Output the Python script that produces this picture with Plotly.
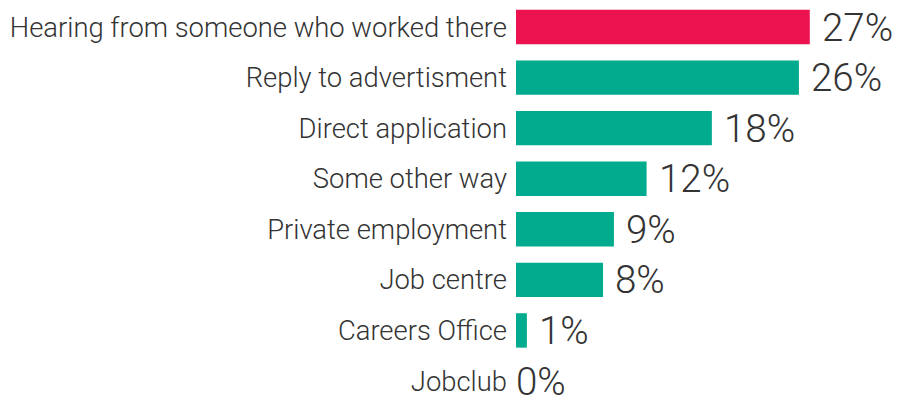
import plotly.graph_objects as go

# Ways people found their current job (share of respondents, %)
categories = [
    "Hearing from someone who worked there",
    "Reply to advertisment",
    "Direct application",
    "Some other way",
    "Private employment",
    "Job centre",
    "Careers Office",
    "Jobclub",
]
values = [27, 26, 18, 12, 9, 8, 1, 0]
value_labels = ["27%", "26%", "18%", "12%", "9%", "8%", "1%", "0%"]

HIGHLIGHT = "#EC1250"
BASE = "#00AB8E"
TEXT = "#333333"
FONT = "Roboto"

colors = [HIGHLIGHT if i == 0 else BASE for i in range(len(values))]
positions = list(range(len(categories)))

fig = go.Figure(
    go.Bar(
        x=values,
        y=positions,
        orientation="h",
        width=0.68,
        marker=dict(color=colors, line=dict(width=0)),
        hoverinfo="skip",
    )
)

# value labels just past the end of each bar
for pos, val, lab in zip(positions, values, value_labels):
    fig.add_annotation(
        x=val,
        y=pos,
        text=lab,
        showarrow=False,
        xanchor="left",
        yanchor="middle",
        xshift=10 if val > 0 else -2,
        font=dict(family=FONT, size=38.5, color=TEXT, weight=300),
    )

fig.update_layout(
    width=899,
    height=398,
    margin=dict(l=516, r=0, t=0, b=0),
    paper_bgcolor="white",
    plot_bgcolor="white",
    showlegend=False,
    xaxis=dict(range=[0, 35.2], visible=False, fixedrange=True),
    yaxis=dict(
        range=[7.336, -0.534],
        tickmode="array",
        tickvals=positions,
        ticktext=categories,
        showgrid=False,
        zeroline=False,
        showline=False,
        ticks="",
        ticklabelstandoff=8,
        tickfont=dict(family=FONT, size=27.4, color=TEXT, weight=300),
        fixedrange=True,
    ),
)

fig.write_html("out.html")
